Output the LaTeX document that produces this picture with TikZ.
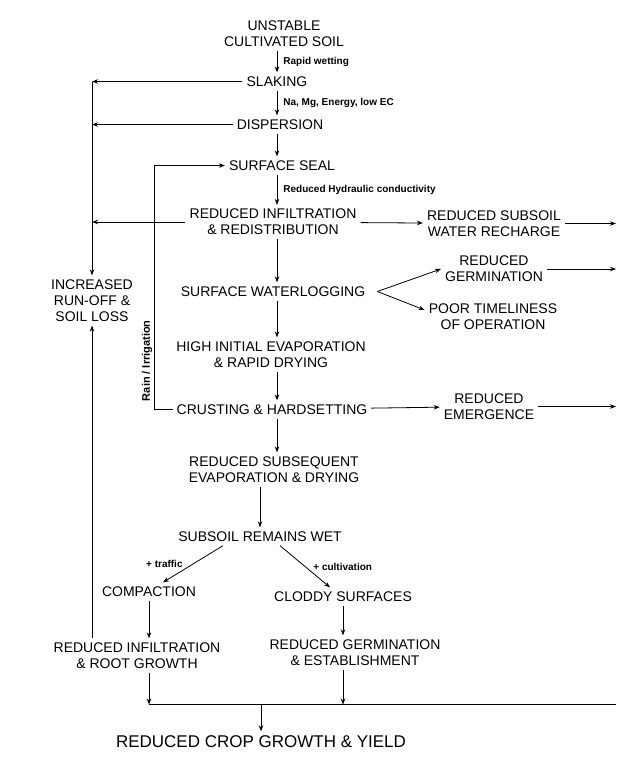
\documentclass[tikz,border=0pt]{standalone}
\usepackage{fontspec}
\setmainfont{Liberation Sans}
\usepackage{tikz}
\usetikzlibrary{arrows.meta}

\begin{document}
\begin{tikzpicture}[node distance=50pt]
        % Define node styles
        \tikzstyle{stage} = [align=center, inner sep=4pt, font=\fontsize{14}{16}\selectfont]
        \tikzstyle{cause} = [font=\bfseries\fontsize{10}{12}\selectfont, inner sep=2pt]
        \tikzstyle{flow} = [-{Stealth[length=6pt, width=4.5pt]}, line width=0.8pt]

        \useasboundingbox (0,0) rectangle (618pt,-761pt);

        % Draw the nodes
        \node[stage] (soil) at (284pt,-33.5pt) {UNSTABLE\\CULTIVATED SOIL};
        \node[stage, below of=soil, xshift=-7pt, yshift=2pt] (slaking) {SLAKING};
        \node[stage, below of=slaking, xshift=3pt, yshift=7pt] (dispersion) {DISPERSION};
        \node[stage, below of=dispersion, xshift=2pt, yshift=9pt] (seal) {SURFACE SEAL};
        \node[stage, below of=seal, xshift=-9pt, yshift=-6.5pt] (infil) {REDUCED INFILTRATION\\\& REDISTRIBUTION};
        \node[stage, right of=infil, xshift=171pt, yshift=-1.5pt] (recharge) {REDUCED SUBSOIL\\WATER RECHARGE};
        \node[stage, below of=infil, yshift=-19.5pt] (waterlog) {SURFACE WATERLOGGING};
        \node[stage, right of=waterlog, xshift=171pt, yshift=22.5pt] (germ) {REDUCED\\GERMINATION};
        \node[stage, right of=waterlog, xshift=170pt, yshift=-25.5pt] (timely) {POOR TIMELINESS\\OF OPERATION};
        \node[stage, left of=waterlog, xshift=-131pt, yshift=-9pt] (runoff) {INCREASED\\RUN-OFF \&\\SOIL LOSS};
        \node[stage, below of=waterlog, xshift=-2pt, yshift=-13pt] (evap) {HIGH INITIAL EVAPORATION\\\& RAPID DRYING};
        \node[stage, below of=evap, xshift=1pt, yshift=-5pt] (crust) {CRUSTING \& HARDSETTING};
        \node[stage, right of=crust, xshift=167pt, yshift=3pt] (emerg) {REDUCED\\EMERGENCE};
        \node[stage, below of=crust, xshift=2pt, yshift=-10pt] (subseq) {REDUCED SUBSEQUENT\\EVAPORATION \& DRYING};
        \node[stage, below of=subseq, xshift=-14pt, yshift=-17pt] (wet) {SUBSOIL REMAINS WET};
        \node[stage, below of=wet, xshift=-111pt, yshift=-5pt] (compact) {COMPACTION};
        \node[stage, below of=wet, xshift=83pt, yshift=-10pt] (cloddy) {CLODDY SURFACES};
        \node[stage, below of=compact, xshift=-12pt, yshift=-14pt] (rootg) {REDUCED INFILTRATION\\\& ROOT GROWTH};
        \node[stage, below of=cloddy, xshift=12pt, yshift=-6pt] (establ) {REDUCED GERMINATION\\\& ESTABLISHMENT};
        \node[stage, below of=wet, xshift=1pt, yshift=-155pt, font=\fontsize{17}{19}\selectfont] (crop) {REDUCED CROP GROWTH \& YIELD};
        \coordinate[above of=crop, yshift=-13pt] (base);
        \coordinate (rim) at (616pt,0);

        % Main chain
        \draw[flow] (soil.south -| slaking) -- 
            node[cause, right=4pt] {Rapid wetting} (slaking);
        \draw[flow] (slaking) -- 
            node[cause, right=4pt] {Na, Mg, Energy, low EC} (slaking |- dispersion.north);
        \draw[flow] (dispersion.south -| slaking) -- (slaking |- seal.north);
        \draw[flow] (seal.south -| slaking) -- 
            node[cause, right=4pt] {Reduced Hydraulic conductivity} (slaking |- infil.north);
        \draw[flow] (infil.south -| slaking) -- (slaking |- waterlog.north);
        \draw[flow] (waterlog.south -| slaking) -- (slaking |- evap.north);
        \draw[flow] (evap.south -| slaking) -- (slaking |- crust.north);
        \draw[flow] (crust.south -| slaking) -- (slaking |- subseq.north);
        \draw[flow] (subseq.south -| wet) -- (wet);

        % Run-off side
        \draw[flow] (slaking) -- (slaking -| runoff);
        \draw[flow] (dispersion) -- (dispersion -| runoff);
        \draw[flow] (infil) -- (infil -| runoff);
        \draw[flow] (slaking -| runoff) -- (runoff);
        \draw[flow] (rootg.north -| runoff) -- (runoff);

        % Rain / irrigation loop
        \draw[flow] (crust.west) -- ++(-18pt,0) |- 
            node[pos=0.1, rotate=90, above, cause, font=\bfseries\fontsize{11}{13}\selectfont] {Rain / Irrigation} (seal);

        % Side effects
        \draw[flow] (infil) -- (recharge);
        \draw[flow] (recharge) -- (recharge -| rim);
        \draw[flow] ([xshift=8pt]waterlog.east) -- (germ.west);
        \draw[flow] ([xshift=8pt]waterlog.east) -- ([yshift=7pt]timely.west);
        \draw[flow] (germ) -- (germ -| rim);
        \draw[flow] (crust) -- (emerg);
        \draw[flow] (emerg) -- (emerg -| rim);

        % Subsoil branches
        \draw[flow] ([xshift=-37pt]wet.south) -- 
            node[cause, left=8pt] {+ traffic} ([xshift=14pt]compact.north);
        \draw[flow] ([xshift=20pt]wet.south) -- 
            node[cause, right=6pt] {+ cultivation} ([xshift=-13pt]cloddy.north);
        \draw[flow] (compact) -- (compact |- rootg.north);
        \draw[flow] (cloddy) -- (cloddy |- establ.north);
        \draw[flow] (rootg.south -| compact) -- (base -| compact);
        \draw[flow] (establ.south -| cloddy) -- (base -| cloddy);
        \draw[line width=0.8pt] (base -| compact) -- (base -| rim);
        \draw[flow] (base) -- (crop);
    \end{tikzpicture}
\end{document}
